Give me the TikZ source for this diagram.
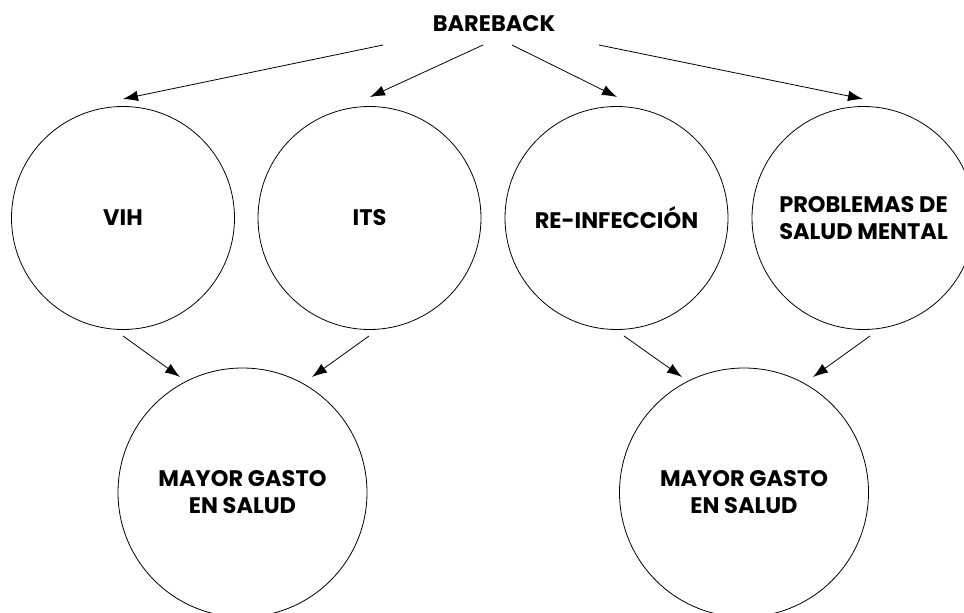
\documentclass[tikz,border=0pt]{standalone}
\usepackage{fontspec}
\setmainfont{Poppins}[BoldFont={* Bold}]
\usetikzlibrary{arrows.meta}
\begin{document}
\begin{tikzpicture}[x=1pt,y=-1pt,
  bubble/.style={circle,draw,line width=0.8pt,inner sep=0pt,align=center,
    font=\fontsize{22.5}{27}\selectfont\bfseries},
  small/.style={bubble,minimum size=223pt},
  big/.style={bubble,minimum size=249pt},
  conn/.style={line width=0.8pt,-{Latex[length=15pt,width=10.5pt]}},
  lbl/.style={font=\fontsize{22.5}{27}\selectfont\bfseries}]
\useasboundingbox (0,0) rectangle (964,613);
\node[lbl] (bb) at (494,24) {BAREBACK};
\node[small] (vih) at (123,218) {VIH};
\node[small] (its) at (369.5,218) {ITS};
\node[small] (rei) at (616.5,218) {RE-INFECCIÓN};
\node[small] (pro) at (863.5,218) {PROBLEMAS DE\\SALUD MENTAL};
\node[big] (g1) at (242.5,492.5) {MAYOR GASTO\\EN SALUD};
\node[big] (g2) at (744,492.5) {MAYOR GASTO\\EN SALUD};
% connector end points
\coordinate (s1) at (383,45); \coordinate (t1) at (123,99);
\coordinate (s2) at (483,45); \coordinate (t2) at (370,97);
\coordinate (s3) at (512,45); \coordinate (t3) at (617,97);
\coordinate (s4) at (599,45); \coordinate (t4) at (863,99);
\coordinate (u1) at (123,336); \coordinate (v1) at (180,377);
\coordinate (u2) at (369,336); \coordinate (v2) at (312,377);
\coordinate (u3) at (624,336); \coordinate (v3) at (682,377);
\coordinate (u4) at (870,336); \coordinate (v4) at (813,377);
\draw[conn] (s1) -- (t1);
\draw[conn] (s2) -- (t2);
\draw[conn] (s3) -- (t3);
\draw[conn] (s4) -- (t4);
\draw[conn] (u1) -- (v1);
\draw[conn] (u2) -- (v2);
\draw[conn] (u3) -- (v3);
\draw[conn] (u4) -- (v4);
\end{tikzpicture}
\end{document}
